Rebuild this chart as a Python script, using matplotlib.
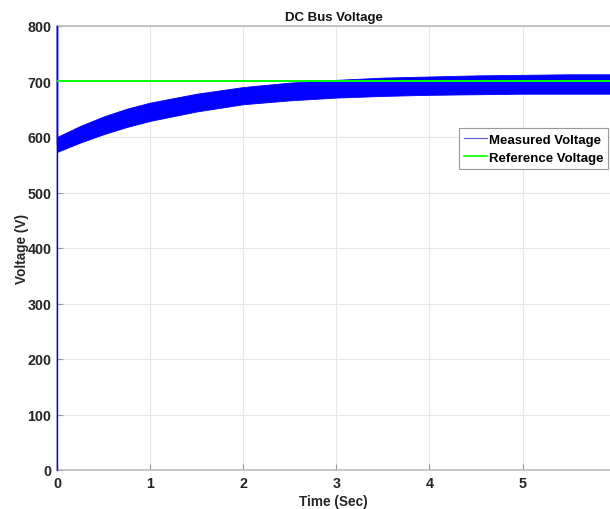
import matplotlib
matplotlib.use("Agg")
import matplotlib.pyplot as plt
from matplotlib.lines import Line2D

plt.rcParams['font.family'] = ['Liberation Sans', 'DejaVu Sans']
plt.rcParams['font.weight'] = 'bold'

# Envelope of the measured (rippled) DC bus voltage
time_s = [0.0, 0.25, 0.5, 0.75, 1.0, 1.5, 2.0, 2.5, 3.0, 3.5, 4.0, 4.5, 5.0, 5.5, 6.0]
measured_upper = [600, 620, 637, 651, 662, 678, 690, 698, 703, 707, 709, 711, 712, 713, 713]
measured_lower = [573, 590, 605, 618, 629, 646, 659, 666, 671, 674, 676, 677, 678, 678, 678]
# Initial start-up transient of the measured voltage
spike_t = [0.0, 0.0, 0.0]
spike_v = [0, 800, 587]
# Reference voltage
ref_t = [0.0, 6.0]
ref_v = [700, 700]

xticks = [0, 1, 2, 3, 4, 5]
yticks = [0, 100, 200, 300, 400, 500, 600, 700, 800]

fig = plt.figure(figsize=(6.1, 5.1), dpi=100)
ax_w = 1 - 57/610 + 0.001
ax = fig.add_axes([57/610, 1-471/510, ax_w, (471-27)/510])

blue = (0, 0, 1)
green = (0, 1, 0)
ax.fill_between(time_s, measured_lower, measured_upper, color=blue, lw=0.6, zorder=3)
ax.plot(spike_t, spike_v, color=blue, lw=1.0, zorder=3, clip_on=False)
ax.plot(ref_t, ref_v, color=green, lw=1.4, zorder=5)

ax.set_xlim(0, 5.946)
ax.set_ylim(0, 800)
ax.set_xticks(xticks)
ax.set_yticks(yticks)
ax.grid(True, color='#e6e6e6', lw=0.8)
ax.set_axisbelow(True)
for s in ax.spines.values():
    s.set_color('#bdbdbd')
    s.set_linewidth(1.2)
ax.tick_params(direction='in', length=4, color='#9a9a9a', labelsize=10.3,
               labelcolor='#262626', top=False, right=False, pad=4)
for lab in ax.get_xticklabels() + ax.get_yticklabels():
    lab.set_fontweight('bold')

ax.set_title('DC Bus Voltage', fontsize=9.5, fontweight='bold', color='#111111', pad=4)
ax.set_xlabel('Time (Sec)', fontsize=9.8, fontweight='bold', color='#262626', labelpad=3)
ax.set_ylabel('Voltage (V)', fontsize=9.8, fontweight='bold', color='#262626', labelpad=-1)

handles = [Line2D([], [], color=(0.35, 0.35, 0.85), lw=0.8),
           Line2D([], [], color=green, lw=1.2)]
leg = ax.legend(handles, ['Measured Voltage', 'Reference Voltage'],
                loc='upper left',
                bbox_to_anchor=((459-57)/(ax_w*610), 1 - (129-27)/444),
                bbox_transform=ax.transAxes, prop={'weight': 'bold', 'size': 9.5},
                frameon=True, fancybox=False, framealpha=1, edgecolor='#999999',
                handlelength=1.7, handletextpad=0.15, borderpad=0.4, labelspacing=0.45,
                borderaxespad=0)
leg.get_frame().set_linewidth(0.8)
leg.set_zorder(10)

fig.savefig('out.png', dpi=100)
